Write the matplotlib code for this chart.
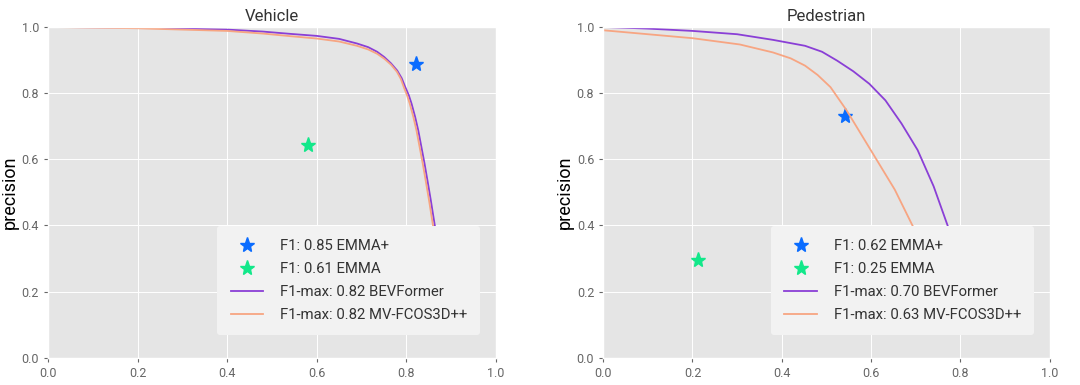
import numpy as np
import matplotlib
matplotlib.use('Agg')
import matplotlib.pyplot as plt

plt.style.use('ggplot')
plt.rcParams['font.family'] = ['Roboto', 'DejaVu Sans']

# Vehicle - precision / recall curves
veh_bev_r = [0.0, 0.2, 0.4, 0.48, 0.542, 0.6, 0.65, 0.69, 0.715, 0.735, 0.751, 0.766, 0.780,
             0.790, 0.798, 0.806, 0.812, 0.820, 0.827, 0.834, 0.841, 0.848, 0.855, 0.860, 0.865, 0.872, 0.880]
veh_bev_p = [1.0, 0.998, 0.992, 0.986, 0.979, 0.973, 0.964, 0.950, 0.939, 0.925, 0.909, 0.890, 0.868,
             0.845, 0.818, 0.793, 0.768, 0.728, 0.687, 0.637, 0.587, 0.532, 0.476, 0.433, 0.391, 0.30, 0.20]
veh_fcos_r = [0.0, 0.2, 0.4, 0.48, 0.542, 0.6, 0.65, 0.69, 0.715, 0.735, 0.751, 0.766, 0.779,
              0.788, 0.795, 0.802, 0.808, 0.816, 0.823, 0.830, 0.837, 0.844, 0.851, 0.856, 0.861, 0.868, 0.876]
veh_fcos_p = [1.0, 0.996, 0.988, 0.980, 0.972, 0.965, 0.956, 0.943, 0.932, 0.919, 0.904, 0.886, 0.865,
              0.843, 0.817, 0.793, 0.768, 0.728, 0.687, 0.637, 0.587, 0.532, 0.476, 0.433, 0.391, 0.30, 0.20]
veh_emma_plus = (0.822, 0.887)
veh_emma = (0.581, 0.642)

# Pedestrian
ped_bev_r = [0.0, 0.1, 0.2, 0.3, 0.38, 0.452, 0.49, 0.524, 0.56, 0.596, 0.632, 0.668, 0.704,
             0.740, 0.773, 0.79, 0.81]
ped_bev_p = [1.0, 0.995, 0.988, 0.978, 0.961, 0.943, 0.925, 0.898, 0.866, 0.828, 0.778, 0.708, 0.628,
             0.518, 0.393, 0.33, 0.25]
ped_fcos_r = [0.0, 0.1, 0.2, 0.306, 0.38, 0.42, 0.452, 0.48, 0.509, 0.545, 0.581, 0.617, 0.653,
              0.695, 0.72, 0.75]
ped_fcos_p = [0.99, 0.978, 0.966, 0.947, 0.923, 0.905, 0.883, 0.855, 0.818, 0.748, 0.668, 0.588, 0.508,
              0.393, 0.34, 0.27]
ped_emma_plus = (0.542, 0.731)
ped_emma = (0.213, 0.295)

titles = ['Vehicle', 'Pedestrian']
f1_emma_plus = ['0.85', '0.62']
f1_emma = ['0.61', '0.25']
f1_bev = ['0.82', '0.70']
f1_fcos = ['0.82', '0.63']

blue = '#0a6cff'
green = '#12e88a'
purple = '#8a3fd6'
salmon = '#f7a582'

fig = plt.figure(figsize=(10.8, 3.85), dpi=100)
ax1 = fig.add_axes([0.0445, 0.071, 0.4145, 0.859])
ax2 = fig.add_axes([0.5585, 0.071, 0.4135, 0.859])

data = [
    (veh_bev_r, veh_bev_p, veh_fcos_r, veh_fcos_p, veh_emma_plus, veh_emma),
    (ped_bev_r, ped_bev_p, ped_fcos_r, ped_fcos_p, ped_emma_plus, ped_emma),
]

for i, ax in enumerate([ax1, ax2]):
    br, bp, fr, fp, ep, e = data[i]
    ax.plot(ep[0], ep[1], '*', color=blue, markersize=11, linestyle='none',
            label='F1: %s EMMA+' % f1_emma_plus[i])
    ax.plot(e[0], e[1], '*', color=green, markersize=11, linestyle='none',
            label='F1: %s EMMA' % f1_emma[i])
    ax.plot(br, bp, color=purple, lw=1.3, label='F1-max: %s BEVFormer' % f1_bev[i])
    ax.plot(fr, fp, color=salmon, lw=1.3, label='F1-max: %s MV-FCOS3D++' % f1_fcos[i])
    ax.set_xlim(0, 1)
    ax.set_ylim(0, 1)
    ax.set_xticks(np.arange(0, 1.01, 0.2))
    ax.set_yticks(np.arange(0, 1.01, 0.2))
    ax.grid(color='white', linewidth=0.7)
    ax.tick_params(labelsize=9, colors='#666666', length=3)
    ax.set_title(titles[i], fontsize=12, color='#333333', pad=4)
    ax.set_ylabel('precision', fontsize=13, color='black', labelpad=2)
    leg = ax.legend(loc='lower right', fontsize=10.7, facecolor='#f2f2f2',
                    framealpha=1, edgecolor='none', borderpad=0.9,
                    labelspacing=0.6, handlelength=2.2, handletextpad=1.1,
                    bbox_to_anchor=(0.982, 0.045))
    for t in leg.get_texts():
        t.set_color('#333333')

fig.savefig('out.png', dpi=100)
